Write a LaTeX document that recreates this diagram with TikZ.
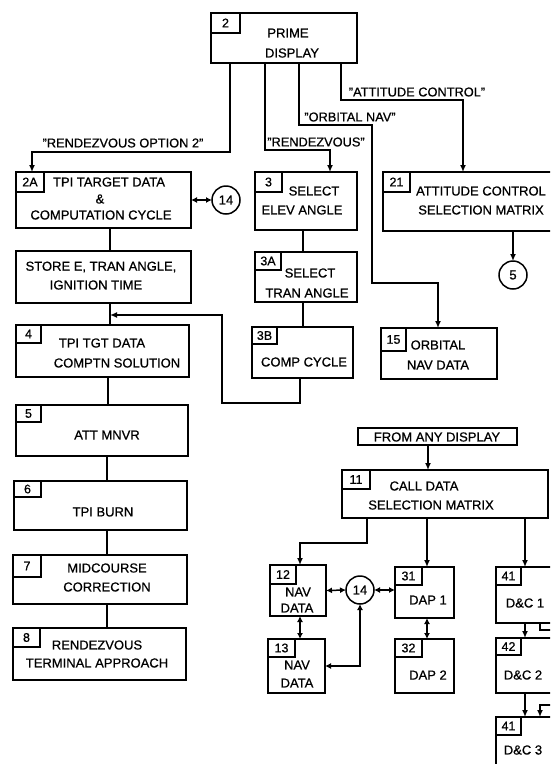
\documentclass[tikz,border=0pt]{standalone}
\usepackage{fontspec}
\setmainfont{Liberation Sans}[FakeBold=0.7]
\usetikzlibrary{arrows.meta}
\tikzset{
  every node/.style={font=\fontsize{13}{15}\selectfont},
  boxst/.style={draw, line width=1.5pt, rectangle, inner sep=0pt, outer sep=0pt},
  numst/.style={draw, line width=1.3pt, rectangle, inner sep=0pt, outer sep=0pt, font=\fontsize{12.5}{13}\selectfont},
  circst/.style={draw, line width=1.5pt, circle, inner sep=0pt, outer sep=0pt, minimum size=28pt},
  txt/.style={inner sep=0pt},
  lbl/.style={inner sep=0pt, font=\fontsize{12.8}{14}\selectfont},
  conn/.style={line width=1.5pt},
  arr/.style={conn, -{Latex[length=7pt,width=6pt]}},
  darr/.style={conn, {Latex[length=6pt,width=6pt]}-{Latex[length=6pt,width=6pt]}},
}
\newcommand\mkbox[5]{\node[boxst, minimum width={#4pt-#2pt}, minimum height={#5pt-#3pt}] (#1) at ({(#2+#4)/2},{(#3+#5)/2}) {};}
\newcommand\mknum[4]{\node[numst, minimum width=#3pt, minimum height=#4pt, anchor=north west] (#1n) at (#1.north west) {#2};}
\begin{document}
\begin{tikzpicture}[x=1pt,y=-1pt]
\useasboundingbox (0,0) rectangle (550,764);
\clip (0,0) rectangle (550,764);
\fill[white] (0,0) rectangle (550,764);
% boxes
\mkbox{b2}{211}{13}{357}{63}\mknum{b2}{2}{29}{20}
\mkbox{b2A}{16}{172}{191}{228}\mknum{b2A}{2A}{28}{20}
\mkbox{bst}{16}{251}{191}{303}
\mkbox{b4}{16}{325}{189}{377}\mknum{b4}{4}{25}{18}
\mkbox{b5}{16}{405}{188}{456}\mknum{b5}{5}{25}{17}
\mkbox{b6}{14}{481}{187}{530}\mknum{b6}{6}{27}{16}
\mkbox{b7}{13}{555}{187}{604}\mknum{b7}{7}{28}{22}
\mkbox{b8}{13}{628}{186}{680}\mknum{b8}{8}{27}{19}
\mkbox{b3}{255}{172}{357}{230}\mknum{b3}{3}{27}{20}
\mkbox{b3A}{255}{252}{357}{302}\mknum{b3A}{3A}{26}{18}
\mkbox{b3B}{252}{327}{353}{378}\mknum{b3B}{3B}{25}{17}
\mkbox{b15}{381}{328}{497}{379}\mknum{b15}{15}{25}{23}
\mkbox{b21}{383}{172}{560}{231}\mknum{b21}{21}{27}{20}
\mkbox{bfrom}{358}{428}{517}{445}
\mkbox{b11}{342}{470}{548}{518}\mknum{b11}{11}{28}{19}
\mkbox{b12}{270}{565}{326}{616}\mknum{b12}{12}{26}{19}
\mkbox{b13}{268}{639}{325}{693}\mknum{b13}{13}{27}{18}
\mkbox{b31}{395}{567}{454}{618}\mknum{b31}{31}{27}{18}
\mkbox{b32}{395}{639}{454}{693}\mknum{b32}{32}{27}{18}
\mkbox{b41a}{496}{567}{560}{623}\mknum{b41a}{41}{25}{18}
\mkbox{b42}{496}{638}{560}{693}\mknum{b42}{42}{25}{17}
\mkbox{b41b}{496}{717}{560}{775}\mknum{b41b}{41}{25}{18}
\node[circst] (c14a) at (226,200) {14};
\node[circst] (c5) at (513,275) {5};
\node[circst] (c14b) at (360,590) {14};
% texts
\node[txt] (t2a) at (288,33) {PRIME};
\node[txt] (t2b) at (292,53) {DISPLAY};
\node[txt] (t2Aa) at (109,182) {TPI TARGET DATA};
\node[txt] (t2Ab) at (100,199) {\&};
\node[txt] (t2Ac) at (101,215) {COMPUTATION CYCLE};
\node[txt] (tsa) at (101,267) {STORE E, TRAN ANGLE,};
\node[txt] (tsb) at (96,285) {IGNITION TIME};
\node[txt] (t4a) at (102,343) {TPI TGT DATA};
\node[txt] (t4b) at (117,363) {COMPTN SOLUTION};
\node[txt] (t5) at (107,435) {ATT MNVR};
\node[txt] (t6) at (103,512) {TPI BURN};
\node[txt] (t7a) at (107,568) {MIDCOURSE};
\node[txt] (t7b) at (107,587) {CORRECTION};
\node[txt] (t8a) at (97,645) {RENDEZVOUS};
\node[txt] (t8b) at (97,663) {TERMINAL APPROACH};
\node[txt] (t3a) at (314,191) {SELECT};
\node[txt] (t3b) at (302,210) {ELEV ANGLE};
\node[txt] (t3Aa) at (310,273) {SELECT};
\node[txt] (t3Ab) at (307,293) {TRAN ANGLE};
\node[txt] (t3B) at (304,362) {COMP CYCLE};
\node[txt] (t15a) at (438,345) {ORBITAL};
\node[txt] (t15b) at (438,365) {NAV DATA};
\node[txt] (t21a) at (481,191) {ATTITUDE CONTROL};
\node[txt] (t21b) at (481,210) {SELECTION MATRIX};
\node[txt] (tfrom) at (437,437) {FROM ANY DISPLAY};
\node[txt] (t11a) at (424,486) {CALL DATA};
\node[txt] (t11b) at (431,505) {SELECTION MATRIX};
\node[txt] (t12a) at (298,592) {NAV};
\node[txt] (t12b) at (297,608) {DATA};
\node[txt] (t13a) at (297,665) {NAV};
\node[txt] (t13b) at (297,683) {DATA};
\node[txt] (t31) at (428,600) {DAP 1};
\node[txt] (t32) at (428,675) {DAP 2};
\node[txt] (t41a) at (525,603) {D\&C 1};
\node[txt] (t42) at (523,675) {D\&C 2};
\node[txt] (t41b) at (523,750) {D\&C 3};
% labels
\node[lbl] (l1) at (123,143) {"RENDEZVOUS OPTION 2"};
\node[lbl] (l2) at (316,142) {"RENDEZVOUS"};
\node[lbl] (l3) at (350,117) {"ORBITAL NAV"};
\node[lbl] (l4) at (417,92) {"ATTITUDE CONTROL"};
% connectors from prime display
\draw[arr] ([xshift=19pt]b2.south west) |- ([xshift=16pt,yshift=20pt]b2A.north west) -- ([xshift=16pt]b2A.north west);
\draw[arr] ([xshift=54pt]b2.south west) |- ([xshift=75pt,yshift=22pt]b3.north west) -- ([xshift=75pt]b3.north west);
\coordinate (o1) at (372,125);
\draw[arr] ([xshift=88pt]b2.south west) |- (o1) |- ([xshift=57pt,yshift=45pt]b15.north west) -- ([xshift=57pt]b15.north west);
\draw[arr] ([xshift=130pt]b2.south west) |- ([xshift=80pt,yshift=72pt]b21.north west) -- ([xshift=80pt]b21.north west);
% left column
\draw[darr] (b2A.east) -- (c14a.west);
\draw[conn] ([xshift=94pt]b2A.south west) -- ([xshift=94pt]bst.north west);
\draw[conn] ([xshift=94pt]bst.south west) -- ([xshift=94pt]b4.north west);
\coordinate (lp) at (222,403);
\draw[arr] ([xshift=48pt]b3B.south west) |- (lp) |- ([xshift=94pt,yshift=10pt]b4.north west);
\draw[conn] ([xshift=92pt]b4.south west) -- ([xshift=92pt]b5.north west);
\draw[conn] ([xshift=91pt]b5.south west) -- ([xshift=93pt]b6.north west);
\draw[conn] ([xshift=93pt]b6.south west) -- ([xshift=94pt]b7.north west);
\draw[conn] ([xshift=94pt]b7.south west) -- ([xshift=94pt]b8.north west);
% middle column
\draw[conn] ([xshift=48pt]b3.south west) -- ([xshift=48pt]b3A.north west);
\draw[conn] ([xshift=48pt]b3A.south west) -- ([xshift=51pt]b3B.north west);
\draw[arr] ([xshift=130pt]b21.south west) -- (c5.north);
% call data
\draw[arr] ([xshift=70pt]bfrom.south west) -- ([xshift=86pt]b11.north west);
\draw[arr] ([xshift=25pt]b11.south west) |- ([xshift=30pt,yshift=22pt]b12.north west) -- ([xshift=30pt]b12.north west);
\draw[arr] ([xshift=85pt]b11.south west) -- ([xshift=32pt]b31.north west);
\draw[arr] ([xshift=183pt]b11.south west) -- ([xshift=29pt]b41a.north west);
\draw[darr] (b12.east) -- (c14b.west);
\draw[darr] (c14b.east) -- (c14b.east -| b31.west);
\draw[darr] ([xshift=32pt]b31.south west) -- ([xshift=32pt]b32.north west);
\draw[darr] ([xshift=30pt]b12.south west) -- ([xshift=32pt]b13.north west);
\draw[darr] (c14b.south) |- (b13.east);
\draw[arr] ([xshift=29pt]b41a.south west) -- ([xshift=29pt]b42.north west);
\coordinate (e1) at (560,630);
\draw[conn] ([xshift=44pt]b41a.south west) |- (e1);
\draw[arr] ([xshift=29pt]b42.south west) -- ([xshift=29pt]b41b.north west);
\coordinate (e2) at (560,705);
\draw[arr] (e2) -| ([xshift=44pt]b41b.north west);
\end{tikzpicture}
\end{document}
